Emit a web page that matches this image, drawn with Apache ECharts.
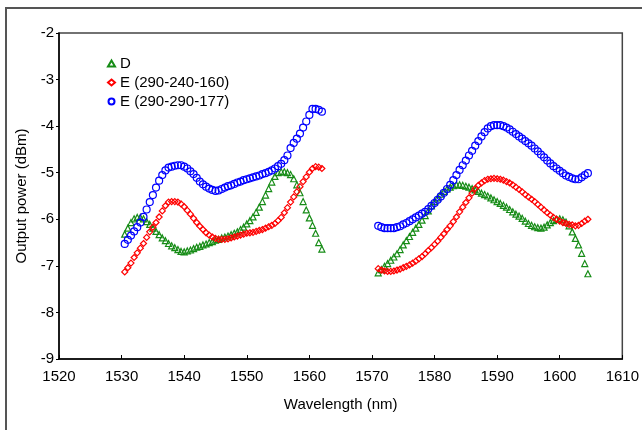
<!DOCTYPE html>
<html>
<head>
<meta charset="utf-8">
<script src="https://cdn.jsdelivr.net/npm/echarts@6/dist/echarts.min.js"></script>
<style>
  html, body { margin: 0; padding: 0; background: #fff; }
  #chart { width: 642px; height: 430px; }
</style>
</head>
<body>
<div id="chart"></div>
<script>
// wavelengths (nm), two measured bands
const wlA = [1530.5, 1531, 1531.5, 1532, 1532.5, 1533, 1533.5, 1534, 1534.5, 1535,
  1535.5, 1536, 1536.5, 1537, 1537.5, 1538, 1538.5, 1539, 1539.5, 1540,
  1540.5, 1541, 1541.5, 1542, 1542.5, 1543, 1543.5, 1544, 1544.5, 1545,
  1545.5, 1546, 1546.5, 1547, 1547.5, 1548, 1548.5, 1549, 1549.5, 1550,
  1550.5, 1551, 1551.5, 1552, 1552.5, 1553, 1553.5, 1554, 1554.5, 1555,
  1555.5, 1556, 1556.5, 1557, 1557.5, 1558, 1558.5, 1559, 1559.5, 1560,
  1560.5, 1561, 1561.5, 1562];
const wlB = [1571, 1571.5, 1572, 1572.5, 1573, 1573.5, 1574, 1574.5, 1575, 1575.5,
  1576, 1576.5, 1577, 1577.5, 1578, 1578.5, 1579, 1579.5, 1580, 1580.5,
  1581, 1581.5, 1582, 1582.5, 1583, 1583.5, 1584, 1584.5, 1585, 1585.5,
  1586, 1586.5, 1587, 1587.5, 1588, 1588.5, 1589, 1589.5, 1590, 1590.5,
  1591, 1591.5, 1592, 1592.5, 1593, 1593.5, 1594, 1594.5, 1595, 1595.5,
  1596, 1596.5, 1597, 1597.5, 1598, 1598.5, 1599, 1599.5, 1600, 1600.5,
  1601, 1601.5, 1602, 1602.5, 1603, 1603.5, 1604, 1604.5];

// D
const dA = [-6.32, -6.19, -6.07, -5.99, -5.96, -5.96, -5.99, -6.05, -6.11, -6.19,
  -6.26, -6.33, -6.40, -6.46, -6.52, -6.57, -6.61, -6.65, -6.69, -6.70,
  -6.68, -6.66, -6.63, -6.60, -6.58, -6.55, -6.53, -6.50, -6.48, -6.45,
  -6.43, -6.40, -6.38, -6.36, -6.33, -6.30, -6.27, -6.22, -6.17, -6.10,
  -6.03, -5.95, -5.85, -5.74, -5.62, -5.48, -5.34, -5.20, -5.08, -5.00,
  -4.98, -4.98, -5.00, -5.04, -5.13, -5.26, -5.43, -5.62, -5.80, -5.97,
  -6.13, -6.30, -6.50, -6.64];
const dB = [-7.15, -7.08, -7.01, -6.95, -6.88, -6.81, -6.74, -6.65, -6.55, -6.46,
  -6.37, -6.28, -6.19, -6.11, -6.02, -5.92, -5.82, -5.71, -5.62, -5.54,
  -5.46, -5.40, -5.35, -5.31, -5.28, -5.26, -5.26, -5.27, -5.29, -5.31,
  -5.34, -5.37, -5.40, -5.44, -5.47, -5.50, -5.54, -5.58, -5.62, -5.66,
  -5.70, -5.74, -5.79, -5.84, -5.89, -5.93, -5.98, -6.04, -6.09, -6.13,
  -6.16, -6.18, -6.19, -6.17, -6.12, -6.07, -6.03, -6.00, -5.99, -6.01,
  -6.06, -6.14, -6.27, -6.41, -6.55, -6.73, -6.95, -7.17];

// E (290-240-160)
const rA = [-7.13, -7.04, -6.94, -6.82, -6.72, -6.62, -6.52, -6.39, -6.27, -6.17,
  -6.07, -5.95, -5.82, -5.71, -5.63, -5.62, -5.62, -5.63, -5.67, -5.73,
  -5.81, -5.89, -5.98, -6.07, -6.15, -6.22, -6.29, -6.34, -6.38, -6.41,
  -6.43, -6.43, -6.43, -6.42, -6.40, -6.38, -6.36, -6.34, -6.32, -6.30,
  -6.29, -6.28, -6.26, -6.24, -6.22, -6.19, -6.16, -6.13, -6.09, -6.03,
  -5.96, -5.86, -5.75, -5.63, -5.52, -5.41, -5.30, -5.19, -5.09, -4.99,
  -4.91, -4.87, -4.88, -4.91];
const rB = [-7.06, -7.09, -7.11, -7.12, -7.12, -7.11, -7.09, -7.07, -7.04, -7.01,
  -6.98, -6.94, -6.90, -6.85, -6.80, -6.74, -6.67, -6.61, -6.54, -6.47,
  -6.39, -6.31, -6.22, -6.14, -6.05, -5.95, -5.84, -5.74, -5.64, -5.54,
  -5.44, -5.34, -5.27, -5.22, -5.17, -5.14, -5.13, -5.12, -5.13, -5.14,
  -5.16, -5.19, -5.22, -5.26, -5.31, -5.36, -5.41, -5.47, -5.52, -5.57,
  -5.62, -5.68, -5.74, -5.80, -5.86, -5.91, -5.96, -6.00, -6.04, -6.07,
  -6.09, -6.11, -6.12, -6.14, -6.13, -6.09, -6.04, -6.00];

// E (290-290-177)
const bA = [-6.53, -6.44, -6.35, -6.26, -6.17, -6.07, -5.95, -5.79, -5.63, -5.48,
  -5.32, -5.17, -5.05, -4.95, -4.89, -4.87, -4.85, -4.84, -4.84, -4.87,
  -4.91, -4.97, -5.03, -5.11, -5.19, -5.25, -5.30, -5.34, -5.37, -5.39,
  -5.38, -5.35, -5.32, -5.29, -5.27, -5.24, -5.21, -5.19, -5.16, -5.14,
  -5.12, -5.10, -5.08, -5.06, -5.03, -5.01, -4.98, -4.95, -4.91, -4.86,
  -4.81, -4.73, -4.63, -4.47, -4.36, -4.27, -4.16, -4.03, -3.90, -3.76,
  -3.63, -3.63, -3.65, -3.69];
const bB = [-6.14, -6.17, -6.19, -6.19, -6.19, -6.19, -6.17, -6.15, -6.11, -6.08,
  -6.04, -6.00, -5.96, -5.92, -5.88, -5.84, -5.78, -5.71, -5.65, -5.58,
  -5.51, -5.43, -5.35, -5.26, -5.16, -5.05, -4.94, -4.84, -4.74, -4.63,
  -4.53, -4.42, -4.32, -4.22, -4.13, -4.05, -4.00, -3.98, -3.98, -3.98,
  -4.00, -4.03, -4.07, -4.12, -4.17, -4.22, -4.27, -4.32, -4.37, -4.42,
  -4.48, -4.54, -4.61, -4.67, -4.74, -4.80, -4.86, -4.91, -4.96, -5.01,
  -5.06, -5.09, -5.12, -5.14, -5.14, -5.10, -5.05, -5.01];

const names = ['D', 'E (290-240-160)', 'E (290-290-177)'];

const font = "'Liberation Sans', Arial, sans-serif";

function pairs(xs, ys) {
  return xs.map((x, i) => [x, ys[i]]);
}

function hollow(name, symbol, size, color, a, b) {
  return {
    name,
    type: 'scatter',
    symbol,
    symbolSize: size,
    itemStyle: {
      color: 'rgba(255,255,255,0)',
      borderColor: color,
      borderWidth: 1.2,
      opacity: 1,
    },
    data: pairs(wlA, a).concat(pairs(wlB, b)),
  };
}

const cht = echarts.init(document.getElementById('chart'));

const option = {
  animation: false,
  backgroundColor: '#fff',
  textStyle: { fontFamily: font },
  graphic: [{
    type: 'rect',
    silent: true,
    z: -1,
    shape: { x: 6, y: 8, width: 800, height: 600 },
    style: { fill: 'none', stroke: '#555', lineWidth: 2 },
  }],
  grid: {
    left: 59,
    right: 7,
    top: 33,
    bottom: 71,
    show: true,
    borderColor: '#444',
    borderWidth: 1.5,
  },
  legend: {
    orient: 'vertical',
    left: 102,
    top: 51,
    itemWidth: 7,
    itemHeight: 6,
    itemGap: 4,
    textStyle: { fontFamily: font, fontSize: 15, color: '#000' },
    data: names,
  },
  xAxis: {
    type: 'value',
    min: 1520,
    max: 1610,
    interval: 10,
    name: 'Wavelength (nm)',
    nameLocation: 'middle',
    nameGap: 38,
    nameTextStyle: { fontFamily: font, fontSize: 15, color: '#000' },
    axisLine: { lineStyle: { color: '#000', width: 1.5 } },
    axisTick: { inside: true, length: 4, lineStyle: { color: '#000' } },
    axisLabel: {
      fontFamily: font,
      fontSize: 15,
      color: '#000',
      margin: 10,
      formatter: (v) => String(v),
    },
    splitLine: { show: false },
  },
  yAxis: {
    type: 'value',
    min: -9,
    max: -2,
    interval: 1,
    name: 'Output power (dBm)',
    nameLocation: 'middle',
    nameGap: 30,
    nameTextStyle: { fontFamily: font, fontSize: 15, color: '#000' },
    axisLine: { show: true, lineStyle: { color: '#000', width: 1.5 } },
    axisTick: { show: true, length: 3, lineStyle: { color: '#000' } },
    axisLabel: { fontFamily: font, fontSize: 15, color: '#000', margin: 5 },
    splitLine: { show: false },
  },
  series: [
    hollow(names[0], 'triangle', 6, '#168c16', dA, dB),
    hollow(names[1], 'diamond', 6, '#ff0000', rA, rB),
    hollow(names[2], 'circle', 7, '#0000ff', bA, bB),
  ],
};

cht.setOption(option);
</script>
</body>
</html>
